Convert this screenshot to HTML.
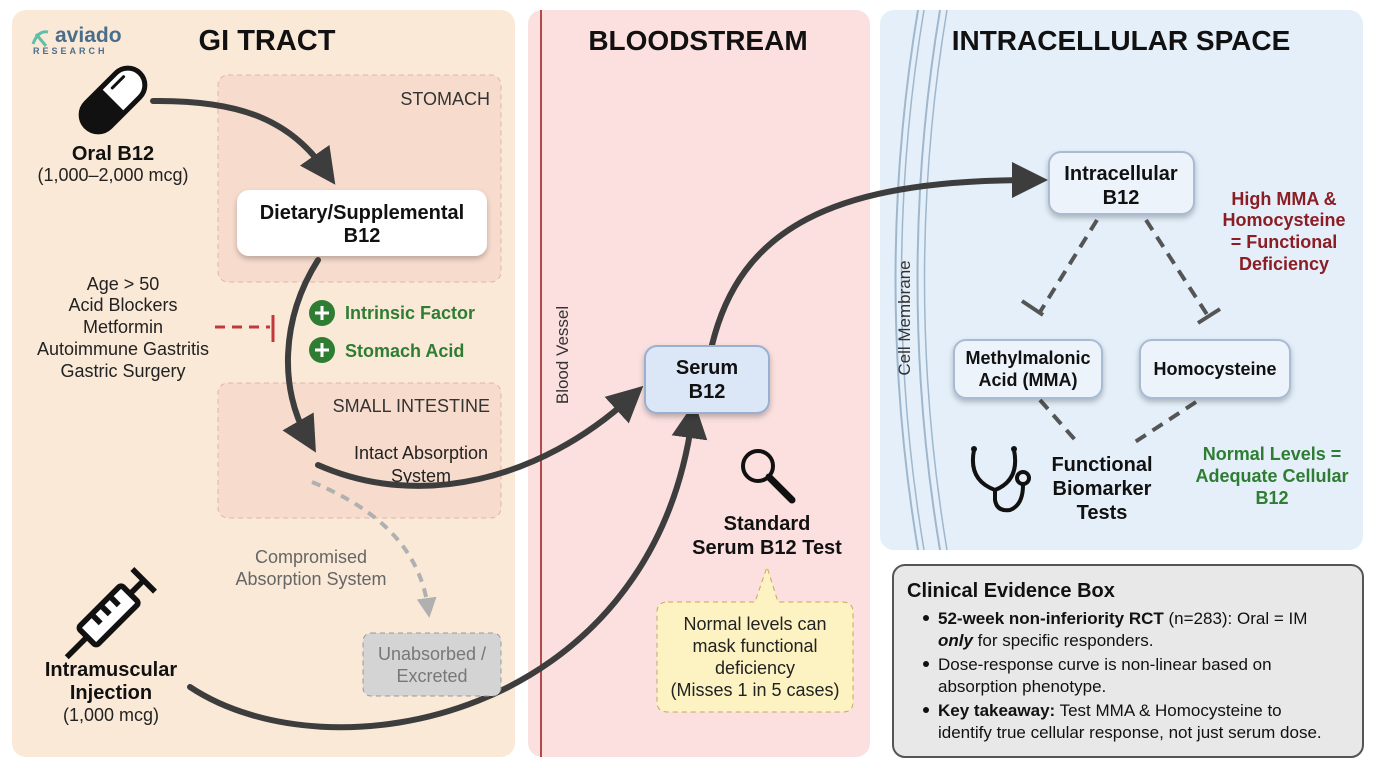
<!DOCTYPE html>
<html><head><meta charset="utf-8"><style>
html,body{margin:0;padding:0;background:#fff;}
svg{display:block;font-family:"Liberation Sans",sans-serif;}
.b{font-weight:bold;}
</style></head><body>
<svg width="1376" height="768" viewBox="0 0 1376 768">
<defs>
<marker id="ah" markerWidth="6" markerHeight="6" refX="3" refY="3" orient="auto" markerUnits="strokeWidth"><path d="M0,0 L6,3 L0,6 z" fill="#3d3d3d"/></marker>
<marker id="ahg" markerWidth="5" markerHeight="5" refX="2.5" refY="2.5" orient="auto" markerUnits="strokeWidth"><path d="M0,0 L5,2.5 L0,5 z" fill="#b0b0b0"/></marker>
<filter id="sh" x="-20%" y="-20%" width="140%" height="150%"><feDropShadow dx="0" dy="3" stdDeviation="3" flood-opacity="0.25"/></filter>
</defs>
<rect width="1376" height="768" fill="#fff"/>
<rect x="12" y="10" width="503" height="747" rx="14" fill="#fbe9d8"/>
<rect x="528" y="10" width="342" height="747" rx="14" fill="#fbe0df"/>
<line x1="541" y1="10" x2="541" y2="757" stroke="#b54848" stroke-width="2"/>
<rect x="880" y="10" width="483" height="540" rx="14" fill="#e4eff9"/>
<path d="M940,10 Q895,280 940,550" fill="none" stroke="#9fb7cc" stroke-width="2"/>
<path d="M947,10 Q902,280 947,550" fill="none" stroke="#9fb7cc" stroke-width="1.5"/>
<path d="M924,10 Q879,280 924,550" fill="none" stroke="#9fb7cc" stroke-width="1.5"/>
<path d="M918,10 Q873,280 918,550" fill="none" stroke="#9fb7cc" stroke-width="2"/>
<text transform="translate(910,318) rotate(-90)" font-size="17" fill="#333" text-anchor="middle">Cell Membrane</text>
<text transform="translate(568,355) rotate(-90)" font-size="17" fill="#333" text-anchor="middle">Blood Vessel</text>
<text x="267" y="50" font-size="29" class="b" text-anchor="middle" fill="#111">GI TRACT</text>
<text x="698" y="50" font-size="28" class="b" text-anchor="middle" fill="#111">BLOODSTREAM</text>
<text x="1121" y="50" font-size="28" class="b" text-anchor="middle" fill="#111">INTRACELLULAR SPACE</text>
<text x="55" y="42" font-size="21" class="b" fill="#4a6e8a">aviado</text>
<path d="M33,44 Q38,30 48,32 M36,34 L46,46" stroke="#5fbfa8" stroke-width="3" fill="none"/>
<text x="33" y="54" font-size="9" class="b" fill="#4a6e8a" letter-spacing="3">RESEARCH</text>
<rect x="218" y="75" width="283" height="207" rx="10" fill="#f7dccd" stroke="#e0b4a4" stroke-dasharray="5,4"/>
<text x="490" y="105" font-size="18" fill="#333" text-anchor="end">STOMACH</text>
<rect x="218" y="383" width="283" height="135" rx="10" fill="#f7dccd" stroke="#e0b4a4" stroke-dasharray="5,4"/>
<text x="490" y="412" font-size="18" fill="#333" text-anchor="end">SMALL INTESTINE</text>
<text x="421" y="459" font-size="18" fill="#222" text-anchor="middle">Intact Absorption</text>
<text x="421" y="482" font-size="18" fill="#222" text-anchor="middle">System</text>
<!-- pill -->
<g transform="translate(113,100) rotate(-45)"><rect x="-38" y="-17" width="76" height="34" rx="17" fill="#fff" stroke="#111" stroke-width="5"/><path d="M0,-17 L-21,-17 A17,17 0 0 0 -21,17 L0,17 z" fill="#111"/><path d="M8,-9 L24,-9" stroke="#111" stroke-width="3" stroke-linecap="round"/></g>
<text x="113" y="160" font-size="20" class="b" text-anchor="middle" fill="#111">Oral B12</text>
<text x="113" y="181" font-size="18" text-anchor="middle" fill="#222">(1,000–2,000 mcg)</text>
<rect x="237" y="190" width="250" height="66" rx="12" fill="#fff" filter="url(#sh)"/>
<text x="362" y="219" font-size="20" class="b" text-anchor="middle" fill="#111">Dietary/Supplemental</text>
<text x="362" y="242" font-size="20" class="b" text-anchor="middle" fill="#111">B12</text>
<g font-size="18" text-anchor="middle" fill="#222">
<text x="123" y="290">Age &gt; 50</text><text x="123" y="311">Acid Blockers</text><text x="123" y="333">Metformin</text><text x="123" y="355">Autoimmune Gastritis</text><text x="123" y="377">Gastric Surgery</text></g>
<line x1="215" y1="327" x2="270" y2="327" stroke="#c0393b" stroke-width="3" stroke-dasharray="10,7"/>
<line x1="273" y1="315" x2="273" y2="342" stroke="#c0393b" stroke-width="3"/>
<g><circle cx="322" cy="313" r="13" fill="#2e7d32"/><path d="M322,306v14M315,313h14" stroke="#fff" stroke-width="3"/>
<text x="345" y="319" font-size="18" class="b" fill="#2e7d32">Intrinsic Factor</text>
<circle cx="322" cy="350" r="13" fill="#2e7d32"/><path d="M322,343v14M315,350h14" stroke="#fff" stroke-width="3"/>
<text x="345" y="357" font-size="18" class="b" fill="#2e7d32">Stomach Acid</text></g>
<g fill="none" stroke="#3d3d3d" stroke-width="6" stroke-linecap="round">
<path d="M153,101 C240,100 290,120 325,170" marker-end="url(#ah)"/>
<path d="M318,260 C280,320 280,390 307,437" marker-end="url(#ah)"/>
<path d="M318,465 C420,510 540,480 630,398" marker-end="url(#ah)"/>
<path d="M190,687 C330,780 650,720 692,420" marker-end="url(#ah)"/>
<path d="M712,345 C740,230 830,180 1030,180" marker-end="url(#ah)"/>
</g>
<path d="M312,482 C380,510 420,550 428,608" fill="none" stroke="#b0b0b0" stroke-width="4" stroke-dasharray="9,7" marker-end="url(#ahg)"/>
<text x="311" y="563" font-size="18" fill="#666" text-anchor="middle">Compromised</text>
<text x="311" y="585" font-size="18" fill="#666" text-anchor="middle">Absorption System</text>
<rect x="363" y="633" width="138" height="63" rx="8" fill="#d4d4d4" stroke="#999" stroke-dasharray="5,4"/>
<text x="432" y="660" font-size="18" fill="#777" text-anchor="middle">Unabsorbed /</text>
<text x="432" y="682" font-size="18" fill="#777" text-anchor="middle">Excreted</text>
<!-- syringe -->
<g transform="translate(112,612) rotate(-45) scale(1.6)" stroke="#111" stroke-width="3.5" fill="none"><rect x="-22" y="-8" width="38" height="16" rx="2" fill="#fff"/><line x1="-22" y1="0" x2="-40" y2="0"/><line x1="16" y1="0" x2="28" y2="0"/><line x1="28" y1="-10" x2="28" y2="10"/><line x1="-10" y1="-8" x2="-10" y2="0"/><line x1="-2" y1="-8" x2="-2" y2="0"/><line x1="6" y1="-8" x2="6" y2="0"/></g>
<text x="111" y="676" font-size="20" class="b" text-anchor="middle" fill="#111">Intramuscular</text>
<text x="111" y="699" font-size="20" class="b" text-anchor="middle" fill="#111">Injection</text>
<text x="111" y="721" font-size="18" text-anchor="middle" fill="#222">(1,000 mcg)</text>
<rect x="645" y="346" width="124" height="67" rx="12" fill="#dbe6f7" stroke="#9ab0d0" stroke-width="2" filter="url(#sh)"/>
<text x="707" y="374" font-size="20" class="b" text-anchor="middle" fill="#111">Serum</text>
<text x="707" y="398" font-size="20" class="b" text-anchor="middle" fill="#111">B12</text>
<circle cx="758" cy="466" r="15" fill="none" stroke="#111" stroke-width="4"/><line x1="769" y1="477" x2="792" y2="500" stroke="#111" stroke-width="7" stroke-linecap="round"/>
<text x="767" y="530" font-size="20" class="b" text-anchor="middle" fill="#111">Standard</text>
<text x="767" y="554" font-size="20" class="b" text-anchor="middle" fill="#111">Serum B12 Test</text>
<path d="M668,602 L755,602 L767,567 L778,602 L842,602 Q853,602 853,612 L853,702 Q853,712 843,712 L668,712 Q657,712 657,702 L657,612 Q657,602 668,602 z" fill="#fcf2c2" stroke="#c8a85a" stroke-dasharray="5,4"/>
<g font-size="18" text-anchor="middle" fill="#222"><text x="755" y="630">Normal levels can</text><text x="755" y="652">mask functional</text><text x="755" y="674">deficiency</text><text x="755" y="696">(Misses 1 in 5 cases)</text></g>
<rect x="1049" y="152" width="145" height="62" rx="12" fill="#edf3fb" stroke="#a8bbd3" stroke-width="2" filter="url(#sh)"/>
<text x="1121" y="180" font-size="20" class="b" text-anchor="middle" fill="#111">Intracellular</text>
<text x="1121" y="204" font-size="20" class="b" text-anchor="middle" fill="#111">B12</text>
<g font-size="18" class="b" text-anchor="middle" fill="#8b1d24"><text x="1284" y="205">High MMA &amp;</text><text x="1284" y="226">Homocysteine</text><text x="1284" y="248">= Functional</text><text x="1284" y="270">Deficiency</text></g>
<g stroke="#555" stroke-width="4" fill="none"><path d="M1097,220 L1040,312" stroke-dasharray="12,8"/><path d="M1022,301 L1043,315"/><path d="M1146,220 L1208,316" stroke-dasharray="12,8"/><path d="M1198,323 L1220,309"/>
<path d="M1040,400 L1077,442" stroke-dasharray="12,8"/><path d="M1196,402 L1135,442" stroke-dasharray="12,8"/></g>
<rect x="954" y="340" width="148" height="58" rx="12" fill="#edf3fb" stroke="#a8bbd3" stroke-width="2" filter="url(#sh)"/>
<text x="1028" y="364" font-size="18" class="b" text-anchor="middle" fill="#111">Methylmalonic</text>
<text x="1028" y="386" font-size="18" class="b" text-anchor="middle" fill="#111">Acid (MMA)</text>
<rect x="1140" y="340" width="150" height="58" rx="12" fill="#edf3fb" stroke="#a8bbd3" stroke-width="2" filter="url(#sh)"/>
<text x="1215" y="375" font-size="18" class="b" text-anchor="middle" fill="#111">Homocysteine</text>
<g stroke="#111" stroke-width="4" fill="none"><path d="M974,450 Q968,480 995,490 Q1020,480 1014,450"/><path d="M995,490 L995,500 Q997,512 1010,510 Q1023,505 1023,485"/><circle cx="1023" cy="478" r="6"/></g>
<circle cx="974" cy="449" r="3" fill="#111"/><circle cx="1014" cy="449" r="3" fill="#111"/>
<g font-size="20" class="b" text-anchor="middle" fill="#111"><text x="1102" y="471">Functional</text><text x="1102" y="495">Biomarker</text><text x="1102" y="519">Tests</text></g>
<g font-size="18" class="b" text-anchor="middle" fill="#2e7d32"><text x="1272" y="460">Normal Levels =</text><text x="1272" y="482">Adequate Cellular</text><text x="1272" y="504">B12</text></g>
<rect x="893" y="565" width="470" height="192" rx="12" fill="#e8e8e8" stroke="#555" stroke-width="2"/>
<text x="907" y="597" font-size="20" class="b" fill="#111">Clinical Evidence Box</text>
<g font-size="17" fill="#111">
<circle cx="926" cy="618" r="3"/><text x="938" y="624"><tspan class="b">52-week non-inferiority RCT</tspan> (n=283): Oral = IM</text>
<text x="938" y="646"><tspan class="b" font-style="italic">only</tspan> for specific responders.</text>
<circle cx="926" cy="664" r="3"/><text x="938" y="670">Dose-response curve is non-linear based on</text>
<text x="938" y="692">absorption phenotype.</text>
<circle cx="926" cy="710" r="3"/><text x="938" y="716"><tspan class="b">Key takeaway:</tspan> Test MMA &amp; Homocysteine to</text>
<text x="938" y="738">identify true cellular response, not just serum dose.</text></g>
</svg>
</body></html>
